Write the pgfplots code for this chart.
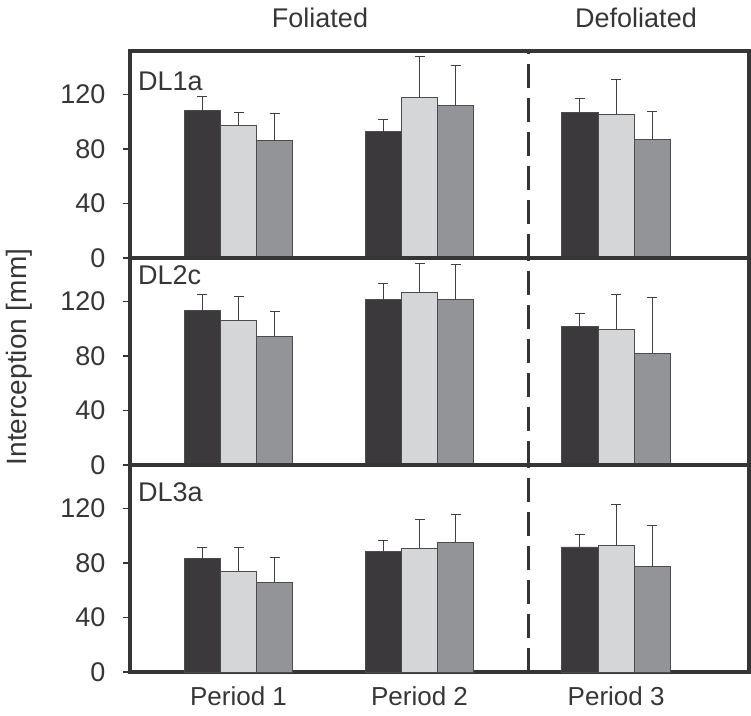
\documentclass[border=0pt]{standalone}
\usepackage{fontspec}
\setmainfont{Liberation Sans}
\usepackage{pgfplots}
\usepackage{pgfplotstable}
\pgfplotsset{compat=1.18}

\definecolor{barDark}{HTML}{3B393C}
\definecolor{barLight}{HTML}{D5D6D8}
\definecolor{barMid}{HTML}{939498}
\definecolor{frame}{HTML}{353535}
\definecolor{txt}{HTML}{363636}

% mean interception and upper error per period (x = period position)
\pgfplotstableread{
x     d     de    l     le    m     me
1     108.0 10.8  97.0  10.0  86.0  20.0
2     92.6  8.9   117.8 30.2  111.9 29.6
3.086 106.7 10.3  105.7 25.2  87.2  20.5
}\dlonea
\pgfplotstableread{
x     d     de    l     le    m     me
1     113.5 11.4  106.4 17.7  94.6  18.0
2     121.7 11.8  126.4 21.9  121.4 25.6
3.086 101.7 9.9   99.3  26.1  82.0  41.2
}\dltwoc
\pgfplotstableread{
x     d     de    l     le    m     me
1     83.2  7.9   73.8  17.8  65.9  18.0
2     88.5  8.4   90.9  21.1  95.2  20.7
3.086 91.8  8.9   92.8  30.0  77.4  30.3
}\dlthreea

\tikzset{
  panellabel/.style={anchor=base west, font=\fontsize{27}{30}\selectfont, text=txt, inner sep=0pt},
}

\pgfplotsset{
  panel/.style={
    scale only axis, width=619pt, height=207pt,
    anchor=south west,
    xmin=0.4006, xmax=3.82, ymin=0, ymax=152,
    ybar=0pt, bar width=0.2,
    ytick={0,40,80,120},
    ytick pos=left, tick align=outside, major tick length=7pt,
    xtick=\empty,
    axis line style={draw=frame, line width=3.2pt},
    tick style={draw=frame, line width=1.3pt},
    tick label style={font=\fontsize{27}{30}\selectfont, text=txt},
    /pgf/number format/assume math mode=true,
    yticklabel style={xshift=-14pt},
    clip=false,
  },
  errbar/.style={
    draw=black!70, line width=0.9pt,
    error bars/.cd, y dir=plus, y explicit,
    error bar style={draw=black!75, line width=0.9pt},
    error mark options={rotate=90, draw=black!75, line width=0.9pt, mark size=5pt},
  },
}

\newcommand{\threebars}[1]{%
  \addplot[fill=barDark, errbar] table[x=x, y=d, y error=de] {#1};
  \addplot[fill=barLight, errbar] table[x=x, y=l, y error=le] {#1};
  \addplot[fill=barMid, errbar] table[x=x, y=m, y error=me] {#1};
  \draw[frame, line width=3pt, dash pattern=on 24pt off 10pt] (axis cs:2.6,0) -- (axis cs:2.6,152);
}

\begin{document}
\begin{tikzpicture}
\useasboundingbox (0,0) rectangle (751pt,715pt);

% DL1a
\begin{axis}[panel, at={(130pt,457pt)}]
  \threebars{\dlonea}
  \node[panellabel] at ([xshift=8pt, yshift=-40pt]rel axis cs:0,1) {DL1a};
\end{axis}

% DL2c
\begin{axis}[panel, at={(130pt,250pt)}]
  \threebars{\dltwoc}
  \node[panellabel] at ([xshift=8pt, yshift=-27pt]rel axis cs:0,1) {DL2c};
\end{axis}

% DL3a
\begin{axis}[panel, at={(130pt,43pt)},
    xtick={1,2,3.086}, xticklabels={Period 1, \raisebox{-6pt}{Period 2}, Period 3},
    xtick style={draw=none}, xticklabel style={yshift=-4pt, font=\fontsize{26}{30}\selectfont}]
  \threebars{\dlthreea}
  \node[panellabel] at ([xshift=8pt, yshift=-36pt]rel axis cs:0,1) {DL3a};
\end{axis}

\node[font=\fontsize{27}{30}\selectfont, text=txt] at (320pt,697pt) {Foliated};
\node[font=\fontsize{27}{30}\selectfont, text=txt] at (636pt,697pt) {Defoliated};
\node[font=\fontsize{28}{30}\selectfont, text=txt, rotate=90] at (19pt,358pt) {Interception [mm]};
\end{tikzpicture}
\end{document}
